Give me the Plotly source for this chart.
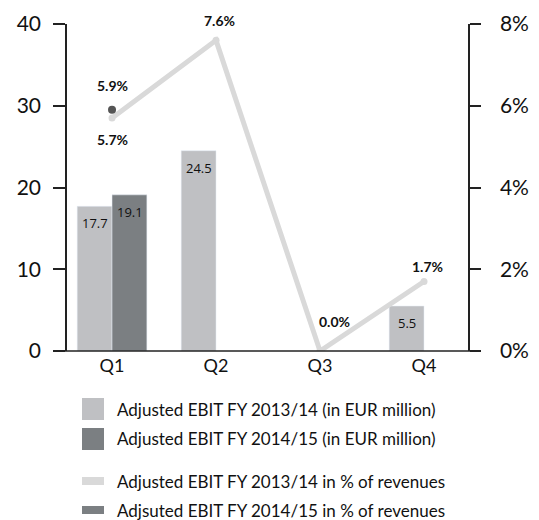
import plotly.graph_objects as go

quarters = ["Q1", "Q2", "Q3", "Q4"]
ebit_1314 = [17.7, 24.5, None, 5.5]
ebit_1415 = [19.1, None, None, None]
pct_1314 = [5.7, 7.6, 0.0, 1.7]
pct_1415 = [5.9, None, None, None]
left_ticks = [0, 10, 20, 30, 40]
right_ticks = [0, 2, 4, 6, 8]
right_tick_text = ["0%", "2%", "4%", "6%", "8%"]
legend_labels = [
    "Adjusted EBIT FY 2013/14 (in EUR million)",
    "Adjusted EBIT FY 2014/15 (in EUR million)",
    "Adjusted EBIT FY 2013/14 in % of revenues",
    "Adjsuted EBIT FY 2014/15 in % of revenues",
]

C_LIGHT = "#bfc0c3"
C_DARK = "#7b7f82"
C_LINE = "#d9d9d9"
C_DOT = "#555555"
FONT = "Lato"
OFF = 8  # page body margin
W, H = 539 - OFF, 520 - OFF
# plot area in reference pixels: x 67..468, y 24..351
L, R, T, B = 67 - OFF, 539 - 468, 24 - OFF, 520 - 351
PW, PH = W - L - R, H - T - B

def px(x):
    return (x - OFF - L) / PW

def py(y):
    return (351 - y) / PH

fig = go.Figure()
fig.add_trace(go.Bar(x=quarters, y=ebit_1314, marker_color=C_LIGHT, name=legend_labels[0],
                     showlegend=False))
fig.add_trace(go.Bar(x=quarters, y=ebit_1415, marker_color=C_DARK, name=legend_labels[1],
                     showlegend=False))
fig.add_trace(go.Scatter(x=quarters, y=pct_1314, yaxis="y2", mode="lines+markers",
                         line=dict(color=C_LINE, width=5), marker=dict(color=C_LINE, size=7),
                         showlegend=False))
fig.add_trace(go.Scatter(x=quarters, y=pct_1415, yaxis="y2", mode="markers",
                         marker=dict(color=C_DOT, size=8), showlegend=False))

annotations = []
for vals, shift in ((ebit_1314, -17.5), (ebit_1415, 17.5)):
    for q, v in zip(quarters, vals):
        if v is not None:
            annotations.append(dict(x=q, y=v, xref="x", yref="y", text=f"{v:.1f}",
                                    showarrow=False, xshift=shift, yshift=-17,
                                    font=dict(family="Open Sans", size=13, color="#111")))
pct_shifts = [(0, -21), (3, 20), (14, 30), (3, 15)]
for q, v, (xs, ys) in zip(quarters, pct_1314, pct_shifts):
    annotations.append(dict(x=q, y=v, xref="x", yref="y2", text=f"{v:.1f}%", showarrow=False,
                            xshift=xs, yshift=ys,
                            font=dict(family=FONT, size=14, color="#111", weight="bold")))
for q, v in zip(quarters, pct_1415):
    if v is not None:
        annotations.append(dict(x=q, y=v, xref="x", yref="y2", text=f"{v:.1f}%", showarrow=False,
                                yshift=24,
                                font=dict(family=FONT, size=14, color="#111", weight="bold")))

shapes = [dict(type="line", xref="paper", yref="paper", x0=px(56), x1=px(470), y0=0, y1=0,
               line=dict(color="#222", width=1.5))]
leg_y = [409, 439, 481, 510]
leg_kind = ["box", "box", "line", "line"]
leg_col = [C_LIGHT, C_DARK, C_LINE, C_DARK]
for y, k, c, lab in zip(leg_y, leg_kind, leg_col, legend_labels):
    hh = 11 if k == "box" else 4
    shapes.append(dict(type="rect", xref="paper", yref="paper", x0=px(82), x1=px(104),
                       y0=py(y + hh), y1=py(y - hh), fillcolor=c, line=dict(width=0)))
    annotations.append(dict(x=px(115), y=py(y), xref="paper", yref="paper", text=lab,
                            showarrow=False, xanchor="left", yanchor="middle",
                            font=dict(family=FONT, size=17, color="#111")))

fig.update_layout(
    width=W, height=H, margin=dict(l=L, r=R, t=T, b=B, autoexpand=False),
    plot_bgcolor="white", paper_bgcolor="white",
    barmode="group", bargap=0.33, bargroupgap=0,
    font=dict(family=FONT, color="#111"),
    xaxis=dict(range=[-0.433, 3.423], showline=False, showgrid=False, zeroline=False,
               automargin=False,
               ticks="", tickfont=dict(size=18, family=FONT, color="#111"), ticklabelstandoff=2),
    yaxis=dict(range=[0, 40], tickvals=left_ticks, showgrid=False, zeroline=False,
               automargin=False,
               showline=True, linecolor="#222", linewidth=1.5, ticks="outside", ticklen=12,
               tickwidth=1.5, tickcolor="#222", tickfont=dict(size=21, family=FONT, color="#111"),
               ticklabelstandoff=8),
    yaxis2=dict(range=[0, 8], tickvals=right_ticks, ticktext=right_tick_text, overlaying="y",
                automargin=False,
                side="right", showgrid=False, zeroline=False, showline=True, linecolor="#222",
                linewidth=1.5, ticks="outside", ticklen=11, tickwidth=1.5, tickcolor="#222",
                tickfont=dict(size=21, family=FONT, color="#111"), ticklabelstandoff=15),
    shapes=shapes, annotations=annotations, showlegend=False,
)

fig.write_html("out.html")
